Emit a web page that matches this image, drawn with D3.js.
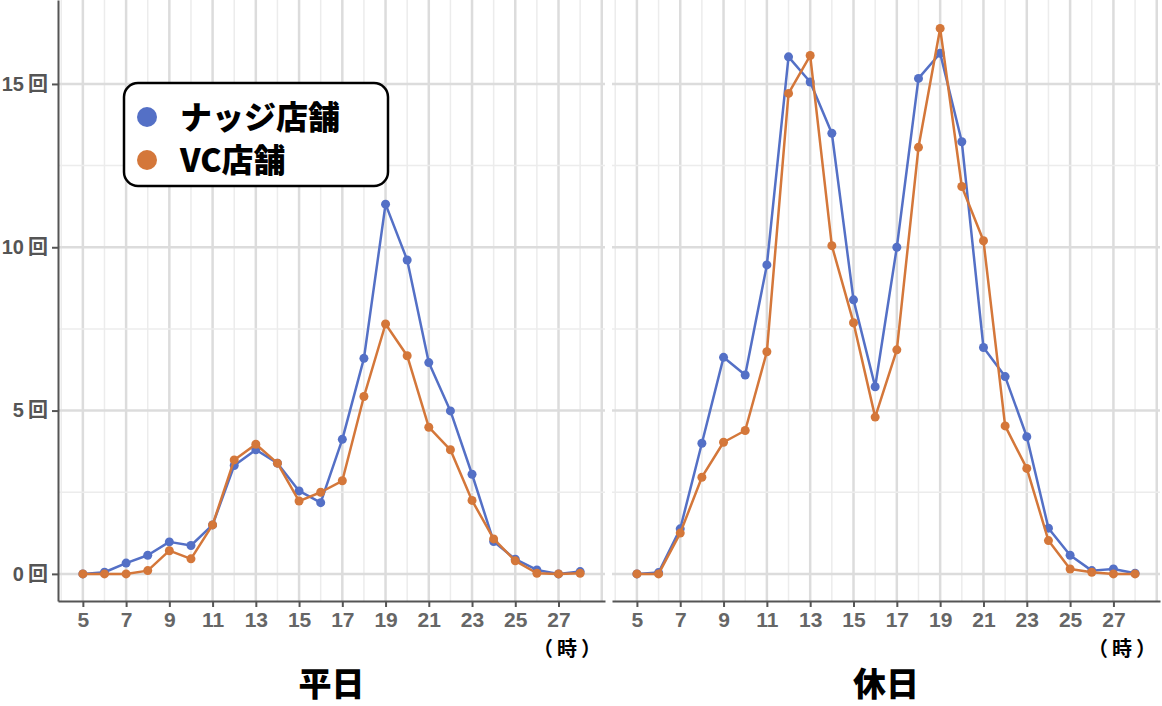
<!DOCTYPE html>
<html>
<head>
<meta charset="utf-8">
<script src="https://cdn.jsdelivr.net/npm/d3@7"></script>
<style>
  body { margin: 0; background: #fff; }
  text { font-family: "Noto Sans CJK JP", "Noto Sans", sans-serif; font-weight: bold; }
  .num text { font-family: "Liberation Sans", "Noto Sans CJK JP", sans-serif; font-weight: bold; }
</style>
</head>
<body>
<script>
// hours on the x axis (5時 .. 28時)
var hours = d3.range(5, 29);

// 平日 (weekday)
var weekdayNudge = [0, 0.05, 0.33, 0.57, 0.98, 0.87, 1.5, 3.32, 3.8, 3.39, 2.54, 2.18,
    4.12, 6.6, 11.32, 9.61, 6.47, 4.99, 3.05, 0.99, 0.45, 0.12, 0, 0.07];
var weekdayVC = [0, 0, 0, 0.1, 0.71, 0.46, 1.5, 3.49, 3.97, 3.39, 2.23, 2.5,
    2.85, 5.43, 7.65, 6.68, 4.49, 3.8, 2.25, 1.07, 0.4, 0.02, 0, 0.02];

// 休日 (holiday)
var holidayNudge = [0, 0.04, 1.38, 4.0, 6.63, 6.09, 9.46, 15.83, 15.06, 13.49, 8.39, 5.73,
    10.0, 15.17, 15.94, 13.23, 6.93, 6.04, 4.2, 1.4, 0.57, 0.1, 0.15, 0.02];
var holidayVC = [0, 0, 1.25, 2.96, 4.03, 4.39, 6.8, 14.71, 15.87, 10.05, 7.69, 4.8,
    6.86, 13.06, 16.7, 11.86, 10.2, 4.53, 3.23, 1.02, 0.15, 0.05, 0, 0];

var seriesNames = ["ナッジ店舗", "VC店舗"];
var seriesColors = ["#5470c6", "#d4773a"];
var yTicks = [0, 5, 10, 15];
var yMinor = [2.5, 7.5, 12.5];
var xTicks = [5, 7, 9, 11, 13, 15, 17, 19, 21, 23, 25, 27];

var panels = [
    { title: "平日", series: [weekdayNudge, weekdayVC], left: 58, right: 605, yAxis: true, legend: true },
    { title: "休日", series: [holidayNudge, holidayVC], left: 612, right: 1160, yAxis: false, legend: false }
];

var w = 1162, h = 706;
var plotTop = 0, plotBottom = 601;

var svg = d3.select("body").append("svg")
    .attr("width", w)
    .attr("height", h);

var y = d3.scaleLinear().domain([-0.83, 17.57]).range([plotBottom, plotTop]);

panels.forEach(function(p) {
    var x = d3.scaleLinear().domain([3.85, 29.15]).range([p.left, p.right]);
    var g = svg.append("g");

    // vertical grid: every hour, odd hours a bit stronger
    g.selectAll("line.vgrid")
        .data(d3.range(4, 30))
        .enter().append("line")
        .attr("x1", d => x(d)).attr("x2", d => x(d))
        .attr("y1", plotTop).attr("y2", plotBottom)
        .attr("stroke", d => d % 2 ? "#dcdcdc" : "#ececec")
        .attr("stroke-width", d => d % 2 ? 2.5 : 1.5);

    // horizontal grid
    g.selectAll("line.hminor")
        .data(yMinor)
        .enter().append("line")
        .attr("x1", p.left).attr("x2", p.right)
        .attr("y1", d => y(d)).attr("y2", d => y(d))
        .attr("stroke", "#ececec").attr("stroke-width", 1.5);
    g.selectAll("line.hmajor")
        .data(yTicks)
        .enter().append("line")
        .attr("x1", p.left).attr("x2", p.right)
        .attr("y1", d => y(d)).attr("y2", d => y(d))
        .attr("stroke", "#dcdcdc").attr("stroke-width", 2.5);

    // x axis
    var xAxis = g.append("g")
        .attr("class", "num")
        .attr("transform", "translate(0," + plotBottom + ")")
        .call(d3.axisBottom(x).tickValues(xTicks).tickSize(6).tickSizeOuter(0).tickPadding(5));
    xAxis.attr("font-size", 21);
    xAxis.select(".domain").attr("stroke", "#555").attr("stroke-width", 2);
    xAxis.selectAll(".tick line").attr("stroke", "#555").attr("stroke-width", 2);
    xAxis.selectAll(".tick text").attr("fill", "#666");

    if (p.yAxis) {
        var yAxis = g.append("g")
            .attr("class", "num")
            .attr("transform", "translate(" + p.left + ",0)")
            .call(d3.axisLeft(y).tickValues(yTicks).tickSize(6).tickSizeOuter(0).tickPadding(4)
                .tickFormat(d => d + "\u2009回"));
        yAxis.attr("font-size", 20);
        yAxis.select(".domain").attr("stroke", "#555").attr("stroke-width", 2);
        yAxis.selectAll(".tick line").attr("stroke", "#555").attr("stroke-width", 2);
        yAxis.selectAll(".tick text").attr("fill", "#555");
    }

    // lines and points
    var line = d3.line()
        .x((d, i) => x(hours[i]))
        .y(d => y(d));

    p.series.forEach(function(vals, si) {
        g.append("path")
            .datum(vals)
            .attr("d", line)
            .attr("fill", "none")
            .attr("stroke", seriesColors[si])
            .attr("stroke-width", 2.5)
            .attr("stroke-linejoin", "round");
        g.selectAll("circle.s" + si)
            .data(vals)
            .enter().append("circle")
            .attr("cx", (d, i) => x(hours[i]))
            .attr("cy", d => y(d))
            .attr("r", 4.5)
            .attr("fill", seriesColors[si]);
    });

    // unit label
    svg.append("text")
        .attr("x", p.right)
        .attr("y", 656)
        .attr("text-anchor", "end")
        .style("font-size", "20px")
        .style("letter-spacing", "4px")
        .attr("fill", "#000")
        .text("（時）");

    // panel title
    svg.append("text")
        .attr("x", (p.left + p.right) / 2)
        .attr("y", 696)
        .attr("text-anchor", "middle")
        .style("font-size", "33px")
        .style("font-weight", "900")
        .attr("fill", "#000")
        .text(p.title);

    if (p.legend) {
        var lg = svg.append("g");
        lg.append("rect")
            .attr("x", 124).attr("y", 83)
            .attr("width", 264).attr("height", 103)
            .attr("rx", 14)
            .attr("fill", "#fff")
            .attr("stroke", "#000")
            .attr("stroke-width", 2.5);
        seriesNames.forEach(function(name, i) {
            lg.append("circle")
                .attr("cx", 147).attr("cy", 117 + i * 43)
                .attr("r", 10)
                .attr("fill", seriesColors[i]);
            lg.append("text")
                .attr("x", 180).attr("y", 117 + i * 43)
                .attr("dy", "0.36em")
                .style("font-size", "32px")
                .style("font-weight", "900")
                .attr("fill", "#000")
                .text(name);
        });
    }
});
</script>
</body>
</html>
